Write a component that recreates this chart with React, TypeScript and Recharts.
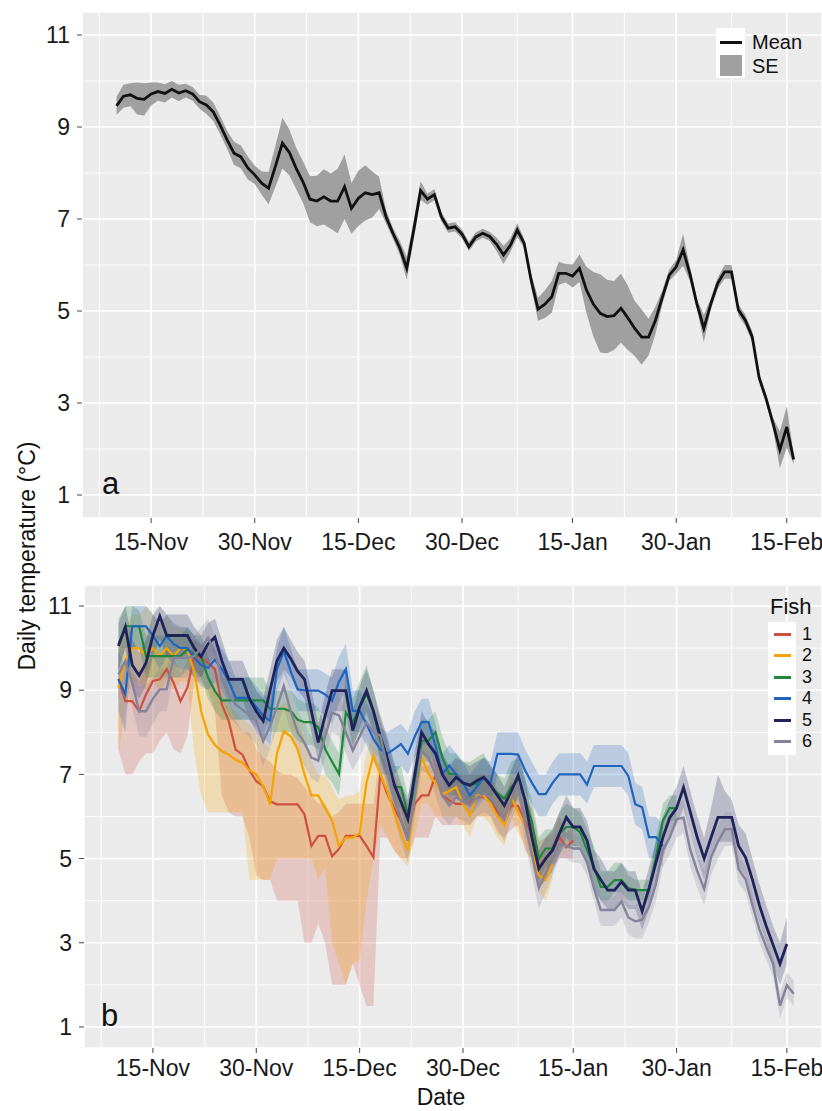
import { Area, CartesianGrid, ComposedChart, Line, XAxis, YAxis } from "recharts"

// day 0 = 15-Nov, first record on 10-Nov
const FIRST_DAY = -5
const tickDays = [0, 15, 30, 45, 61, 76, 92]
const tickLabels = ["15-Nov", "30-Nov", "15-Dec", "30-Dec", "15-Jan", "30-Jan", "15-Feb"]
const minorDays = [-7.5, 7.5, 22.5, 37.5, 53, 68.5, 84]
const yTicks = [1, 3, 5, 7, 9, 11]
const yMinor = [2, 4, 6, 8, 10]

// panel a: mean of all fish and its SE
const meanTemp = [
  9.46, 9.67, 9.70, 9.62, 9.60, 9.72, 9.77, 9.73, 9.82, 9.74,
  9.79, 9.72, 9.55, 9.48, 9.33, 9.04, 8.72, 8.43, 8.35, 8.11,
  7.96, 7.78, 7.67, 8.15, 8.65, 8.45, 8.10, 7.80, 7.43, 7.39,
  7.48, 7.39, 7.39, 7.70, 7.23, 7.45, 7.57, 7.53, 7.57, 7.05,
  6.69, 6.37, 5.93, 6.75, 7.62, 7.43, 7.53, 7.05, 6.80, 6.83,
  6.67, 6.40, 6.61, 6.69, 6.62, 6.45, 6.22, 6.43, 6.76, 6.47,
  5.67, 5.04, 5.15, 5.31, 5.82, 5.82, 5.76, 5.93, 5.46, 5.15,
  4.95, 4.88, 4.90, 5.06, 4.85, 4.62, 4.43, 4.43, 4.80, 5.30,
  5.78, 5.96, 6.33, 5.80, 5.15, 4.62, 5.15, 5.60, 5.85, 5.85,
  5.02, 4.80, 4.44, 3.55, 3.10, 2.56, 1.98, 2.48, 1.77,
]
const seTemp = [
  0.20, 0.25, 0.25, 0.35, 0.35, 0.25, 0.20, 0.20, 0.18, 0.18,
  0.15, 0.15, 0.15, 0.20, 0.20, 0.20, 0.20, 0.25, 0.25, 0.25,
  0.20, 0.25, 0.35, 0.45, 0.55, 0.50, 0.45, 0.45, 0.50, 0.55,
  0.60, 0.60, 0.70, 0.70, 0.55, 0.60, 0.60, 0.50, 0.35, 0.15,
  0.12, 0.15, 0.25, 0.20, 0.20, 0.12, 0.12, 0.10, 0.10, 0.10,
  0.10, 0.10, 0.10, 0.10, 0.10, 0.15, 0.20, 0.15, 0.15, 0.10,
  0.15, 0.25, 0.30, 0.35, 0.25, 0.20, 0.25, 0.30, 0.50, 0.70,
  0.85, 0.80, 0.75, 0.75, 0.70, 0.60, 0.60, 0.40, 0.30, 0.15,
  0.12, 0.15, 0.35, 0.15, 0.10, 0.30, 0.12, 0.12, 0.15, 0.15,
  0.12, 0.12, 0.12, 0.10, 0.10, 0.12, 0.40, 0.45, 0.10,
]

// panel b: each fish, daily mean with daily min / max
const fish1Mean = [
  9.27, 8.74, 8.74, 8.50, 8.90, 9.22, 9.26, 9.50, 9.18, 8.74,
  9.06, 9.81, 9.77, 9.65, 9.50, 8.66, 8.27, 7.59, 7.47, 7.10,
  6.84, 6.72, 6.36, 6.29, 6.29, 6.29, 6.29, 6.05, 5.30, 5.54,
  5.54, 5.05, 5.23, 5.54, 5.54, 5.54, 5.30, 5.03, 7.00, 6.54,
  6.20, 5.90, 5.50, 6.30, 6.50, 6.50, 6.97, 6.50, 6.38, 6.30,
  6.30, 6.30, 6.46, 6.46, 6.46, 6.10, 5.98, 6.26, 6.25, 5.90,
  5.60, 4.80, 5.00, 5.20, 5.51, 5.27, 5.43,
]
const fish1Lo = [
  7.6, 7.0, 7.0, 7.3, 7.5, 7.5, 7.8, 8.0, 7.6, 7.5,
  7.9, 9.2, 9.2, 9.0, 8.5, 6.5, 6.1, 6.0, 6.0, 5.5,
  4.6, 4.5, 4.5, 4.0, 4.0, 4.0, 4.0, 3.0, 3.0, 3.45,
  3.0, 2.0, 2.0, 2.0, 2.5, 2.0, 1.5, 1.5, 5.5, 5.5,
  5.2, 5.0, 5.0, 5.5, 5.5, 5.5, 6.0, 5.8, 5.8, 5.8,
  5.8, 5.8, 6.0, 6.0, 6.0, 5.6, 5.5, 5.7, 5.8, 5.2,
  5.0, 4.3, 4.5, 4.8, 5.0, 5.0, 5.0,
]
const fish1Hi = [
  9.6, 9.6, 9.4, 9.2, 9.6, 9.8, 9.8, 10.0, 9.8, 9.4,
  9.7, 10.2, 10.1, 10.1, 10.0, 9.3, 8.8, 8.3, 8.0, 8.0,
  7.6, 7.4, 7.3, 7.1, 7.0, 7.0, 6.9, 6.7, 6.5, 6.3,
  6.3, 6.0, 6.1, 6.3, 6.3, 6.3, 6.3, 6.3, 7.5, 7.2,
  7.0, 6.6, 6.3, 7.0, 7.2, 7.2, 7.5, 7.2, 7.0, 7.0,
  7.0, 7.0, 7.0, 7.0, 7.0, 6.6, 6.5, 6.8, 6.8, 6.4,
  6.2, 5.4, 5.5, 5.6, 6.0, 5.6, 5.8,
]

const fish2Mean = [
  9.06, 9.69, 10.0, 10.0, 9.81, 10.0, 9.81, 10.0, 9.81, 10.0,
  9.95, 9.45, 8.50, 7.95, 7.70, 7.55, 7.47, 7.35, 7.28, 7.10,
  7.00, 6.72, 6.29, 7.50, 8.03, 7.90, 7.60, 7.00, 6.50, 6.50,
  6.20, 5.90, 5.30, 5.50, 5.50, 5.60, 6.80, 7.45, 7.00, 6.62,
  6.10, 5.60, 5.19, 6.50, 7.41, 7.01, 6.80, 6.54, 6.60, 6.70,
  6.30, 6.02, 6.50, 6.50, 6.30, 6.00, 5.79, 6.46, 6.10, 5.79,
  5.20, 4.60, 4.49, 4.88,
]
const fish2Lo = [
  7.5, 8.5, 9.2, 9.2, 9.0, 9.2, 9.0, 9.2, 9.0, 9.2,
  9.2, 7.5, 6.5, 6.1, 6.1, 6.1, 6.1, 6.1, 6.1, 4.5,
  4.5, 4.5, 4.5, 5.0, 5.0, 5.0, 5.0, 5.0, 5.0, 4.5,
  4.8, 3.0, 2.5, 2.0, 2.5, 2.6, 4.0, 5.0, 5.8, 5.5,
  5.2, 5.0, 4.8, 5.5, 6.3, 6.3, 6.0, 6.0, 6.0, 6.0,
  5.8, 5.5, 6.0, 6.0, 5.8, 5.5, 5.3, 6.0, 5.6, 5.3,
  4.8, 4.2, 4.0, 4.5,
]
const fish2Hi = [
  10.0, 10.5, 10.8, 10.8, 11.0, 10.8, 10.6, 10.8, 10.5, 10.5,
  10.4, 10.2, 9.8, 9.4, 9.0, 8.8, 8.6, 8.5, 8.3, 8.2,
  8.0, 7.8, 7.6, 8.5, 8.7, 8.6, 8.3, 7.8, 7.3, 7.0,
  7.0, 6.7, 6.4, 6.5, 6.5, 6.6, 7.5, 8.0, 7.6, 7.2,
  6.8, 6.3, 6.0, 7.0, 7.9, 7.6, 7.3, 7.1, 7.1, 7.2,
  6.8, 6.6, 7.0, 7.0, 6.8, 6.5, 6.3, 7.0, 6.6, 6.3,
  5.7, 5.2, 5.0, 5.4,
]

const fish3Mean = [
  10.09, 10.52, 10.52, 10.52, 9.81, 9.81, 9.81, 9.81, 9.81, 9.81,
  9.97, 9.85, 9.81, 9.30, 8.98, 8.76, 8.76, 8.76, 8.76, 8.76,
  8.76, 8.76, 8.56, 8.56, 8.56, 8.50, 8.30, 8.24, 8.24, 8.12,
  7.60, 7.30, 7.01, 8.47, 8.24, 8.60, 8.91, 8.50, 7.80, 7.30,
  6.70, 6.70, 6.06, 6.66, 7.80, 7.80, 8.00, 7.40, 7.01, 7.01,
  6.77, 6.77, 6.77, 6.93, 6.74, 6.55, 6.42, 6.70, 6.85, 6.40,
  5.87, 5.00, 5.24, 5.24, 5.60, 5.75, 5.75, 5.63, 5.20, 4.80,
  4.33, 4.33, 4.49, 4.49, 4.30, 4.25, 4.25, 4.25, 5.04, 5.90,
  6.20, 6.20,
]
const fish3Lo = [
  9.5, 10.0, 10.0, 10.0, 9.3, 9.3, 9.3, 9.3, 9.3, 9.3,
  9.5, 9.3, 9.3, 8.8, 8.5, 8.3, 8.3, 8.3, 8.3, 8.3,
  8.3, 8.3, 8.0, 8.0, 8.0, 8.0, 7.8, 7.7, 7.7, 7.6,
  7.0, 6.8, 6.5, 7.9, 7.7, 8.0, 8.4, 8.0, 7.3, 6.8,
  6.2, 6.2, 5.5, 6.2, 7.3, 7.3, 7.5, 6.9, 6.5, 6.5,
  6.3, 6.3, 6.3, 6.5, 6.3, 6.0, 6.0, 6.2, 6.4, 5.9,
  5.4, 4.5, 4.8, 4.8, 5.1, 5.3, 5.3, 5.2, 4.8, 4.3,
  4.0, 4.0, 4.2, 4.2, 4.0, 4.0, 4.0, 4.0, 4.8, 5.6,
  5.9, 5.9,
]
const fish3Hi = [
  10.7, 11.0, 11.0, 10.9, 10.3, 10.3, 10.3, 10.3, 10.3, 10.3,
  10.5, 10.3, 10.3, 9.8, 9.5, 9.3, 9.3, 9.3, 9.3, 9.3,
  9.3, 9.3, 9.0, 9.0, 9.0, 9.0, 8.8, 8.7, 8.7, 8.6,
  8.1, 7.8, 7.5, 9.5, 8.8, 9.2, 9.6, 9.0, 8.3, 7.8,
  7.2, 7.2, 6.5, 7.2, 8.3, 8.3, 8.5, 7.9, 7.5, 7.5,
  7.3, 7.3, 7.4, 7.5, 7.2, 7.0, 6.9, 7.3, 7.4, 6.9,
  6.4, 5.5, 5.7, 5.7, 6.1, 6.3, 6.2, 6.1, 5.7, 5.3,
  4.7, 4.7, 4.9, 4.9, 4.6, 4.5, 4.5, 4.5, 5.5, 6.3,
  6.5, 6.5,
]

const fish4Mean = [
  9.26, 8.90, 10.52, 10.52, 10.52, 10.29, 10.05, 10.29, 10.10, 10.00,
  10.00, 9.77, 9.60, 9.53, 9.73, 9.50, 9.22, 8.82, 8.82, 8.82,
  8.60, 8.40, 8.27, 9.50, 9.93, 9.45, 9.02, 9.00, 8.99, 8.99,
  8.90, 8.75, 9.20, 9.50, 8.51, 8.51, 8.20, 7.84, 7.60, 7.49,
  7.60, 7.72, 7.49, 7.90, 8.24, 8.24, 7.68, 7.01, 7.21, 7.00,
  6.80, 6.50, 6.70, 6.93, 6.80, 7.49, 7.49, 7.49, 7.47, 7.10,
  6.80, 6.53, 6.53, 6.80, 7.00, 7.00, 7.00, 7.00, 6.76, 7.20,
  7.20, 7.20, 7.20, 7.20, 6.96, 6.29, 6.22, 5.51, 5.51, 5.30,
]
const fish4Lo = [
  8.5, 8.0, 10.0, 10.0, 10.0, 9.8, 9.5, 9.8, 9.6, 9.5,
  9.5, 9.3, 9.1, 9.0, 9.2, 9.0, 8.7, 8.3, 8.3, 8.3,
  8.1, 7.9, 7.7, 9.0, 9.4, 9.0, 8.5, 8.5, 8.5, 8.5,
  8.4, 8.2, 8.7, 9.0, 8.0, 8.0, 7.7, 7.3, 7.0, 7.0,
  7.0, 7.2, 7.0, 7.4, 7.7, 7.7, 7.1, 6.5, 6.7, 6.5,
  6.3, 6.0, 6.2, 6.4, 6.3, 7.0, 7.0, 7.0, 7.0, 6.6,
  6.3, 6.0, 6.0, 6.3, 6.5, 6.5, 6.5, 6.5, 6.3, 6.7,
  6.7, 6.7, 6.7, 6.7, 6.5, 5.8, 5.7, 5.0, 5.0, 4.8,
]
const fish4Hi = [
  9.9, 9.6, 11.0, 11.0, 11.0, 10.8, 10.6, 10.8, 10.6, 10.5,
  10.5, 10.3, 10.1, 10.0, 10.2, 10.0, 9.7, 9.3, 9.3, 9.3,
  9.1, 8.9, 8.8, 10.0, 10.5, 10.0, 9.5, 9.5, 9.5, 9.5,
  9.4, 9.3, 9.8, 10.1, 9.0, 9.0, 8.7, 8.4, 8.1, 8.0,
  8.1, 8.2, 8.0, 8.5, 8.8, 8.8, 8.2, 7.5, 7.7, 7.5,
  7.3, 7.0, 7.2, 7.4, 7.3, 8.0, 8.0, 8.0, 8.0, 7.6,
  7.3, 7.0, 7.0, 7.3, 7.5, 7.5, 7.5, 7.5, 7.3, 7.7,
  7.7, 7.7, 7.7, 7.7, 7.5, 6.8, 6.7, 6.0, 6.0, 5.8,
]

const fish5Mean = [
  10.05, 10.50, 9.60, 9.35, 9.65, 10.30, 10.76, 10.30, 10.30, 10.30,
  10.30, 10.00, 9.80, 10.10, 10.26, 9.70, 9.26, 9.26, 9.26, 8.80,
  8.50, 8.27, 9.00, 9.70, 10.00, 9.75, 9.45, 9.26, 8.50, 7.76,
  8.40, 8.99, 8.99, 8.99, 8.04, 8.60, 8.99, 8.50, 7.90, 7.40,
  6.77, 6.35, 5.94, 7.00, 8.00, 7.72, 7.50, 7.00, 6.74, 6.93,
  6.80, 6.74, 6.85, 6.93, 6.74, 6.50, 6.26, 6.60, 6.97, 6.40,
  5.50, 4.76, 5.00, 5.20, 5.60, 5.98, 5.75, 5.75, 5.43, 4.76,
  4.50, 4.25, 4.25, 4.45, 4.25, 4.25, 3.75, 4.30, 4.90, 5.50,
  5.97, 6.20, 6.69, 6.10, 5.50, 5.00, 5.50, 5.98, 5.98, 5.98,
  5.30, 5.03, 4.50, 3.90, 3.40, 2.95, 2.50, 2.97,
]
const fish5Lo = [
  9.5, 10.0, 9.0, 8.8, 9.1, 9.8, 10.2, 9.8, 9.8, 9.8,
  9.8, 9.5, 9.3, 9.6, 9.8, 9.2, 8.8, 8.8, 8.8, 8.3,
  8.0, 7.8, 8.5, 9.2, 9.5, 9.3, 9.0, 8.8, 8.0, 7.3,
  7.9, 8.5, 8.5, 8.5, 7.6, 8.1, 8.5, 8.0, 7.4, 6.9,
  6.3, 5.9, 5.5, 6.5, 7.5, 7.3, 7.0, 6.5, 6.3, 6.5,
  6.3, 6.3, 6.4, 6.5, 6.3, 6.0, 5.8, 6.1, 6.5, 5.9,
  5.0, 4.3, 4.5, 4.7, 5.1, 5.5, 5.3, 5.3, 5.0, 4.3,
  4.0, 3.8, 3.8, 4.0, 3.8, 3.8, 3.3, 3.8, 4.4, 5.0,
  5.5, 5.8, 6.2, 5.6, 5.0, 4.5, 5.0, 5.4, 5.4, 5.4,
  4.8, 4.6, 4.0, 3.5, 3.0, 2.5, 2.0, 2.5,
]
const fish5Hi = [
  10.6, 11.0, 10.2, 9.9, 10.2, 10.8, 11.0, 10.8, 10.8, 10.8,
  10.8, 10.5, 10.3, 10.6, 10.7, 10.2, 9.7, 9.7, 9.7, 9.3,
  9.0, 8.8, 9.5, 10.2, 10.5, 10.2, 9.9, 9.7, 9.0, 8.2,
  8.9, 9.5, 9.5, 9.5, 8.5, 9.1, 9.5, 9.0, 8.4, 7.9,
  7.3, 6.8, 6.4, 7.5, 8.5, 8.2, 8.0, 7.5, 7.2, 7.4,
  7.3, 7.2, 7.3, 7.4, 7.2, 7.0, 6.7, 7.1, 7.5, 6.9,
  6.0, 5.2, 5.5, 5.7, 6.1, 6.5, 6.2, 6.2, 5.9, 5.2,
  5.0, 4.7, 4.7, 4.9, 4.7, 4.7, 4.2, 4.8, 5.4, 6.0,
  6.4, 6.7, 7.2, 6.6, 6.0, 5.5, 6.2, 7.0, 6.6, 6.4,
  5.8, 5.6, 5.0, 4.4, 3.9, 3.4, 3.0, 3.6,
]

const fish6Mean = [
  9.38, 9.69, 9.18, 8.50, 8.50, 8.80, 9.02, 9.02, 9.77, 9.77,
  9.77, 9.81, 10.00, 10.25, 9.89, 9.30, 8.90, 8.66, 8.54, 8.40,
  8.27, 7.79, 8.15, 8.60, 9.10, 8.50, 8.00, 7.75, 7.40, 7.33,
  7.90, 8.47, 8.40, 8.00, 7.57, 7.90, 8.24, 8.00, 7.92, 7.20,
  6.50, 5.90, 5.43, 6.50, 7.57, 7.41, 7.00, 6.50, 6.26, 6.46,
  6.35, 6.26, 6.45, 6.54, 6.46, 6.20, 5.94, 6.40, 6.77, 5.82,
  5.10, 4.30, 4.65, 5.00, 5.35, 5.30, 5.24, 5.24, 4.92, 4.30,
  3.78, 3.78, 3.78, 3.98, 3.60, 3.51, 3.55, 3.86, 4.40, 5.20,
  5.50, 5.94, 5.97, 5.20, 4.70, 4.28, 5.03, 5.40, 5.70, 5.70,
  4.75, 4.51, 3.90, 3.33, 2.90, 2.50, 1.51, 1.99, 1.79,
]
const fish6Lo = [
  8.8, 9.2, 8.6, 7.9, 7.9, 8.2, 8.5, 8.5, 9.3, 9.3,
  9.3, 9.4, 9.5, 9.8, 9.4, 8.8, 8.4, 8.2, 8.0, 7.9,
  7.7, 7.2, 7.6, 8.1, 8.6, 8.0, 7.5, 7.2, 6.9, 6.8,
  7.4, 8.0, 7.9, 7.5, 7.1, 7.4, 7.8, 7.5, 7.4, 6.7,
  6.0, 5.4, 4.9, 6.0, 7.1, 7.0, 6.5, 6.0, 5.8, 6.0,
  5.9, 5.8, 6.0, 6.1, 6.0, 5.7, 5.4, 5.9, 6.3, 5.4,
  4.6, 3.8, 4.2, 4.6, 5.0, 5.0, 4.9, 4.9, 4.6, 4.0,
  3.4, 3.4, 3.4, 3.6, 3.2, 3.1, 3.1, 3.5, 4.0, 4.8,
  5.1, 5.5, 5.6, 4.8, 4.3, 3.9, 4.6, 5.0, 5.3, 5.3,
  4.4, 4.2, 3.6, 3.0, 2.6, 2.2, 1.2, 1.7, 1.5,
]
const fish6Hi = [
  9.9, 10.2, 9.7, 9.1, 9.1, 9.3, 9.5, 9.5, 10.2, 10.2,
  10.2, 10.3, 10.5, 10.7, 10.3, 9.8, 9.4, 9.1, 9.0, 8.9,
  8.7, 8.3, 8.6, 9.1, 9.6, 9.0, 8.5, 8.2, 7.9, 7.8,
  8.4, 9.0, 8.9, 8.5, 8.0, 8.4, 8.7, 8.5, 8.4, 7.7,
  7.0, 6.4, 5.9, 7.0, 8.0, 7.9, 7.5, 7.0, 6.7, 6.9,
  6.8, 6.7, 6.9, 7.0, 6.9, 6.7, 6.4, 6.9, 7.2, 6.3,
  5.6, 4.8, 5.1, 5.5, 5.7, 5.6, 5.6, 5.6, 5.3, 4.7,
  4.1, 4.1, 4.1, 4.3, 3.9, 3.9, 4.0, 4.2, 4.8, 5.6,
  5.9, 6.3, 6.4, 5.6, 5.1, 4.7, 5.4, 5.8, 6.1, 6.1,
  5.1, 4.8, 4.2, 3.6, 3.2, 2.8, 1.8, 2.3, 2.1,
]

const fish = [
  { name: "1", color: "#CD5040", width: 2.2, mean: fish1Mean, lo: fish1Lo, hi: fish1Hi },
  { name: "2", color: "#F5A300", width: 2.2, mean: fish2Mean, lo: fish2Lo, hi: fish2Hi },
  { name: "3", color: "#1E873C", width: 2.2, mean: fish3Mean, lo: fish3Lo, hi: fish3Hi },
  { name: "4", color: "#1F64BE", width: 2.2, mean: fish4Mean, lo: fish4Lo, hi: fish4Hi },
  { name: "5", color: "#1F235A", width: 2.8, mean: fish5Mean, lo: fish5Lo, hi: fish5Hi },
  { name: "6", color: "#84839A", width: 2.4, mean: fish6Mean, lo: fish6Lo, hi: fish6Hi },
]

const days = meanTemp.map((_, i) => FIRST_DAY + i)

const panelA = days.map((day, i) => ({
  day,
  mean: meanTemp[i],
  se: [meanTemp[i] - seTemp[i], meanTemp[i] + seTemp[i]],
}))

const panelB = days.map((day, i) => {
  const row: Record<string, any> = { day }
  fish.forEach((f, k) => {
    const m = f.mean[i]
    row["m" + k] = m === undefined ? null : m
    row["r" + k] = m === undefined ? null : [f.lo[i], f.hi[i]]
  })
  return row
})

const FONT = "'Liberation Sans', Arial, sans-serif"
const tickStyle = { fill: "#1a1a1a", fontSize: 23 }
const fmtDay = (d: number) => tickLabels[tickDays.indexOf(d)] ?? ""

function axes(tickMargin: number) {
  return [
    <CartesianGrid key="g1" fill="#EBEBEB" stroke="#FFFFFF" strokeWidth={1.7} />,
    <CartesianGrid
      key="g2"
      stroke="#FFFFFF"
      strokeWidth={0.9}
      verticalValues={minorDays}
      horizontalValues={yMinor}
    />,
    <XAxis
      key="x"
      type="number"
      dataKey="day"
      domain={[-10, 97.1]}
      ticks={tickDays}
      tickFormatter={fmtDay}
      interval={0}
      axisLine={false}
      tickLine={{ stroke: "#444" }}
      tickSize={5}
      tickMargin={tickMargin}
      height={52}
      tick={tickStyle}
    />,
    <YAxis
      key="y"
      type="number"
      domain={[0.5, 11.5]}
      ticks={yTicks}
      interval={0}
      axisLine={false}
      tickLine={{ stroke: "#444" }}
      tickSize={5}
      tickMargin={7}
      width={40}
      tick={tickStyle}
    />,
  ]
}

const abs = (style: React.CSSProperties): React.CSSProperties => ({ position: "absolute", ...style })

export default function App() {
  return (
    <div style={{ position: "absolute", left: 0, top: 0, width: 822, height: 1111, background: "#fff", fontFamily: FONT, color: "#111" }}>
      <div style={abs({ left: 0, top: 0 })}>
        <ComposedChart width={822} height={570} data={panelA} margin={{ top: 12, right: 0, bottom: 0, left: 42 }}>
          {axes(11)}
          <Area dataKey="se" type="linear" fill="#A0A0A0" fillOpacity={1} stroke="none" isAnimationActive={false} />
          <Line dataKey="mean" type="linear" stroke="#111" strokeWidth={2.8} dot={false} isAnimationActive={false} />
        </ComposedChart>
      </div>

      <div style={abs({ left: 0, top: 570 })}>
        <ComposedChart width={822} height={530} data={panelB} margin={{ top: 15, right: 0, bottom: 0, left: 44 }}>
          {axes(7)}
          {fish.map((f, k) => (
            <Area key={"r" + k} dataKey={"r" + k} type="linear" fill={f.color} fillOpacity={0.24} stroke="none" isAnimationActive={false} />
          ))}
          {fish.map((f, k) => (
            <Line key={"m" + k} dataKey={"m" + k} type="linear" stroke={f.color} strokeWidth={f.width} dot={false} isAnimationActive={false} />
          ))}
        </ComposedChart>
      </div>

      {/* panel letters */}
      <div style={abs({ left: 102, top: 468, fontSize: 31, lineHeight: 1 })}>a</div>
      <div style={abs({ left: 101, top: 1000, fontSize: 31, lineHeight: 1 })}>b</div>

      {/* axis titles */}
      <div style={abs({ left: 27, top: 556, fontSize: 23, whiteSpace: "nowrap", transform: "translate(-50%, -50%) rotate(-90deg)" })}>
        Daily temperature (°C)
      </div>
      <div style={abs({ left: 441, top: 1084, fontSize: 23, transform: "translateX(-50%)" })}>Date</div>

      {/* legend a */}
      <div style={abs({ left: 716, top: 28, width: 29, height: 50, background: "#fff" })} />
      <div style={abs({ left: 720, top: 41, width: 22, height: 3, background: "#111" })} />
      <div style={abs({ left: 720, top: 55, width: 22, height: 21, background: "#A0A0A0" })} />
      <div style={abs({ left: 752, top: 31, fontSize: 20, lineHeight: "22px" })}>Mean</div>
      <div style={abs({ left: 752, top: 55, fontSize: 20, lineHeight: "22px" })}>SE</div>

      {/* legend b */}
      <div style={abs({ left: 770, top: 597, fontSize: 22, lineHeight: "20px" })}>Fish</div>
      <div style={abs({ left: 768, top: 622, width: 28, height: 133, background: "#fff" })} />
      {fish.map((f, k) => (
        <div key={f.name}>
          <div style={abs({ left: 774, top: 633 + k * 21.4, width: 17, height: 3, background: f.color })} />
          <div style={abs({ left: 802, top: 625 + k * 21.4, fontSize: 18, lineHeight: "19px" })}>{f.name}</div>
        </div>
      ))}
    </div>
  )
}
